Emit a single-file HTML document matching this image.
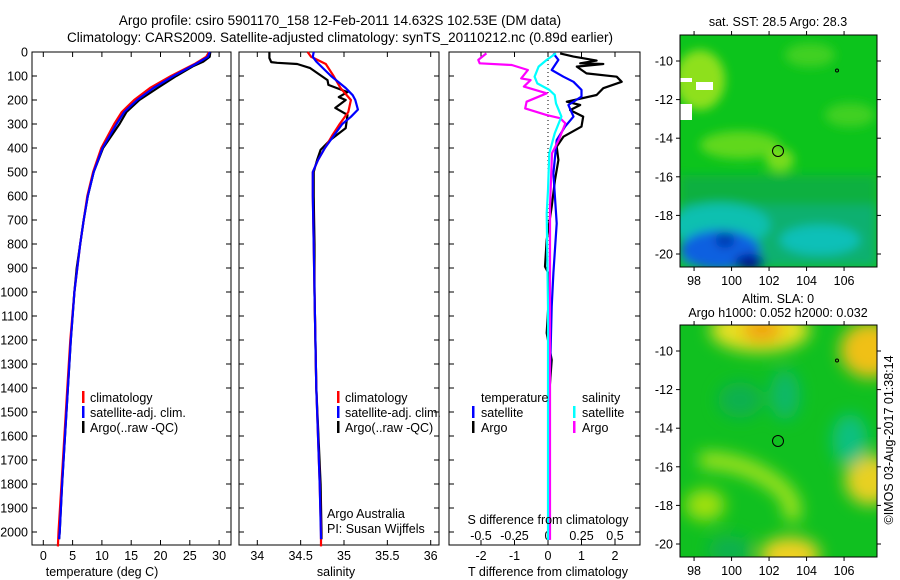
<!DOCTYPE html>
<html><head><meta charset="utf-8">
<style>
html,body{margin:0;padding:0;background:#fff;}
svg{display:block;font-family:"Liberation Sans",sans-serif;}
text{font-size:12.5px;fill:#000;}
</style></head>
<body>
<svg id="fig" width="900" height="580" viewBox="0 0 900 580" xmlns="http://www.w3.org/2000/svg">
<defs>
  <filter id="blur1" x="-20%" y="-20%" width="140%" height="140%"><feGaussianBlur stdDeviation="5"/></filter>
  <filter id="blur2" x="-20%" y="-20%" width="140%" height="140%"><feGaussianBlur stdDeviation="8"/></filter>
  <clipPath id="clipM1"><rect x="680" y="35" width="197" height="232"/></clipPath>
  <clipPath id="clipM2"><rect x="680" y="325" width="197" height="232"/></clipPath>
</defs>
<text x="340" y="25" text-anchor="middle" style="font-size:13.5px">Argo profile: csiro 5901170_158 12-Feb-2011 14.632S 102.53E (DM data)</text>
<text x="340" y="42" text-anchor="middle" style="font-size:13.5px">Climatology: CARS2009. Satellite-adjusted climatology: synTS_20110212.nc (0.89d earlier)</text>

<!-- map 1 -->
<g clip-path="url(#clipM1)">
  <rect x="680" y="35" width="197" height="232" fill="#0cc41c"/>
  <g filter="url(#blur1)">
    <rect x="680" y="175" width="197" height="40" fill="#10b040"/>
    <ellipse cx="700" cy="80" rx="25" ry="30" fill="#8ee01a"/>
    <ellipse cx="740" cy="145" rx="40" ry="14" fill="#60d81c"/>
    <ellipse cx="780" cy="160" rx="14" ry="12" fill="#78dc1a"/>
    <ellipse cx="810" cy="55" rx="25" ry="12" fill="#40d020"/>
    <ellipse cx="850" cy="115" rx="25" ry="12" fill="#40d020"/>
    <rect x="680" y="205" width="197" height="62" fill="#10b070"/>
    <ellipse cx="720" cy="225" rx="50" ry="22" fill="#10c0b0"/>
    <ellipse cx="820" cy="240" rx="40" ry="15" fill="#10c0b8"/>
    <ellipse cx="720" cy="250" rx="40" ry="20" fill="#1060e0"/>
    <ellipse cx="750" cy="262" rx="15" ry="8" fill="#001890"/>
    <ellipse cx="725" cy="240" rx="10" ry="8" fill="#0038b0"/>
  </g>
  <rect x="680" y="78" width="12" height="4" fill="#fff"/>
  <rect x="696" y="82" width="17" height="8" fill="#fff"/>
  <rect x="680" y="104" width="12" height="16" fill="#fff"/>
</g>
<rect x="680" y="35" width="197" height="232" fill="none" stroke="#000"/>
<circle cx="778" cy="151" r="5.5" fill="none" stroke="#000"/>
<circle cx="837" cy="70.5" r="1.5" fill="none" stroke="#000"/>
<text x="778" y="26" text-anchor="middle">sat. SST: 28.5 Argo: 28.3</text>

<!-- map 2 -->
<g clip-path="url(#clipM2)">
  <rect x="680" y="325" width="197" height="232" fill="#10c020"/>
  <g filter="url(#blur2)">
    <ellipse cx="760" cy="330" rx="50" ry="22" fill="#e8e020"/>
    <ellipse cx="762" cy="330" rx="20" ry="12" fill="#f0a010"/>
    <ellipse cx="870" cy="350" rx="30" ry="28" fill="#f0c018"/>
    <ellipse cx="870" cy="480" rx="25" ry="25" fill="#e8d020"/>
    <ellipse cx="790" cy="555" rx="30" ry="18" fill="#f0d020"/>
    <ellipse cx="705" cy="505" rx="20" ry="16" fill="#a0e010"/>
    <path d="M700 460 Q 740 460 770 480 T 790 520" stroke="#a8e41a" stroke-width="16" fill="none"/>
    <ellipse cx="740" cy="400" rx="22" ry="18" fill="#10b050"/>
    <ellipse cx="785" cy="395" rx="15" ry="25" fill="#10b868"/>
    <ellipse cx="850" cy="440" rx="18" ry="26" fill="#10c080"/>
    <ellipse cx="730" cy="550" rx="22" ry="14" fill="#10b050"/>
  </g>
</g>
<rect x="680" y="325" width="197" height="232" fill="none" stroke="#000"/>
<circle cx="778" cy="441" r="5.5" fill="none" stroke="#000"/>
<circle cx="837" cy="360.5" r="1.5" fill="none" stroke="#000"/>
<text x="778" y="303" text-anchor="middle">Altim. SLA: 0</text>
<text x="778" y="317" text-anchor="middle">Argo h1000: 0.052 h2000: 0.032</text>
<text transform="translate(893,440) rotate(-90)" text-anchor="middle">©IMOS 03-Aug-2017 01:38:14</text>

<g id="axes"></g>
<g id="marks"></g>

<!-- legends -->
<g>
  <rect x="82" y="391" width="2.5" height="12" fill="#f00"/><text x="90" y="402">climatology</text>
  <rect x="82" y="406" width="2.5" height="12" fill="#00f"/><text x="90" y="417">satellite-adj. clim.</text>
  <rect x="82" y="421" width="2.5" height="12" fill="#000"/><text x="90" y="432">Argo(..raw -QC)</text>
</g>
<g>
  <rect x="337" y="391" width="2.5" height="12" fill="#f00"/><text x="345" y="402">climatology</text>
  <rect x="337" y="406" width="2.5" height="12" fill="#00f"/><text x="345" y="417">satellite-adj. clim.</text>
  <rect x="337" y="421" width="2.5" height="12" fill="#000"/><text x="345" y="432">Argo(..raw -QC)</text>
</g>
<g>
  <text x="481" y="402">temperature</text>
  <rect x="472" y="406" width="2.5" height="12" fill="#00f"/><text x="481" y="417">satellite</text>
  <rect x="472" y="421" width="2.5" height="12" fill="#000"/><text x="481" y="432">Argo</text>
  <text x="582" y="402">salinity</text>
  <rect x="573" y="406" width="2.5" height="12" fill="#0ff"/><text x="582" y="417">satellite</text>
  <rect x="573" y="421" width="2.5" height="12" fill="#f0f"/><text x="582" y="432">Argo</text>
</g>
<text x="327" y="518">Argo Australia</text>
<text x="327" y="533">PI: Susan Wijffels</text>
<text x="548" y="524" text-anchor="middle">S difference from climatology</text>
<text x="102" y="576" text-anchor="middle">temperature (deg C)</text>
<text x="336" y="576" text-anchor="middle">salinity</text>
<text x="548" y="576" text-anchor="middle">T difference from climatology</text>
</svg>

<script>
// ---- data ----
const depthTicks = [0,100,200,300,400,500,600,700,800,900,1000,1100,1200,1300,1400,1500,1600,1700,1800,1900,2000];
const tempTicks = [0,5,10,15,20,25,30];
const salTicks = [34,34.5,35,35.5,36];
const tdiffTicks = [-2,-1,0,1,2];
const sdiffTicks = [-0.5,-0.25,0,0.25,0.5];
const sdiffTickLabels = ["-0.5","-0.25","0","0.25","0.5"];
const lonTicks = [98,100,102,104,106];
const latTicks = [-10,-12,-14,-16,-18,-20];

const tClimDepth = [0,20,50,100,150,200,250,300,400,500,600,700,800,900,1000,1200,1400,1600,1800,2000,2060];
const tClimVal   = [28.3,27.8,25.8,21.8,18.2,15.5,13.4,12.1,9.9,8.5,7.5,6.9,6.3,5.8,5.3,4.6,4.1,3.6,3.1,2.6,2.5];
const tSatDepth  = [0,20,50,100,150,200,250,300,400,500,600,700,800,900,1000,1200,1400,1600,1800,2000,2030];
const tSatVal    = [28.4,28.1,26.0,22.2,18.8,16.0,13.8,12.5,10.1,8.6,7.6,6.9,6.3,5.8,5.3,4.7,4.2,3.7,3.2,2.8,2.7];
const tArgoDepth = [0,20,40,60,100,150,200,250,300,400,500,600,700,800,900,1000,1200,1400,1600,1800,2000,2030];
const tArgoVal   = [28.5,28.4,27.3,25.5,22.7,19.5,16.4,14.2,13.0,10.2,8.6,7.6,6.9,6.3,5.7,5.3,4.7,4.2,3.7,3.2,2.8,2.7];

const sClimDepth = [0,20,50,100,150,200,250,300,350,400,450,500,600,800,1000,1200,1400,1600,1800,2000,2060];
const sClimVal   = [34.58,34.62,34.79,34.88,34.96,35.08,35.05,34.95,34.86,34.78,34.70,34.64,34.64,34.65,34.66,34.67,34.68,34.70,34.72,34.735,34.735];
const sSatDepth  = [0,20,40,100,150,180,200,240,270,300,350,400,450,500,600,800,1000,1400,1800,2030];
const sSatVal    = [34.65,34.64,34.68,34.85,35.02,35.10,35.13,35.16,35.08,34.98,34.88,34.78,34.70,34.64,34.64,34.65,34.66,34.68,34.72,34.735];
const sArgoDepth = [0,25,42,45,50,67,117,137,167,188,200,233,262,317,367,408,450,500,600,800,1000,1400,1800,2000,2030];
const sArgoVal   = [34.14,34.14,34.16,34.23,34.46,34.61,34.81,34.82,35.04,34.94,35.02,34.90,35.04,35.02,34.84,34.73,34.69,34.65,34.65,34.66,34.66,34.68,34.73,34.74,34.74];

const dTSatDepth  = [6,33,75,103,124,158,186,221,269,311,367,506,714,921,1061,1339,2033];
const dTSatVal    = [0.16,0.31,0.11,0.46,0.76,1.0,1.0,0.61,0.76,0.51,0.26,0.16,0.26,0.16,0.11,0.06,0.01];
const dTArgoDepth = [6,19,36,47,50,61,89,103,124,151,179,207,221,242,269,311,353,394,450,533,644,783,894,921,1061,1171,1283,1478,2033];
const dTArgoVal   = [0.36,0.76,1.45,0.96,1.65,0.86,1.15,2.05,2.2,1.65,1.45,0.56,0.96,0.66,1.05,1.0,0.46,0.26,0.31,0.21,0.11,-0.04,-0.09,0.01,0.01,-0.04,0.11,0.01,0.01];
const dSSatDepth  = [6,33,61,103,131,158,179,214,269,339,422,575,672,1061,2033];
const dSSatVal    = [0.06,-0.01,-0.07,-0.10,-0.08,0.01,0.05,0.06,0.10,0.05,0.01,0.0,-0.01,0.0,0.0];
const dSArgoDepth = [6,33,47,54,75,110,117,144,172,207,235,263,276,297,367,422,644,2033];
const dSArgoVal   = [-0.46,-0.52,-0.51,-0.27,-0.15,-0.20,-0.13,-0.18,-0.01,-0.16,-0.17,-0.01,0.09,0.13,0.08,0.03,0.015,0.015];

// ---- scales ----
const yTop = 52, yBot = 545;
const yD = d => yTop + d * 0.24;
const xT = t => 43.3 + t * 5.86;
const xS = s => 257.3 + (s - 34) * 86.7;
const xTd = t => 548 + t * 33.5;
const xSd = s => 548 + s * 134;
const panels = [{l:32,r:231},{l:239,r:439},{l:449,r:640}];
const NS = "http://www.w3.org/2000/svg";
const axesG = document.getElementById('axes');
const marksG = document.getElementById('marks');
function mk(tag, attrs, parent){ const e=document.createElementNS(NS,tag); for(const k in attrs) e.setAttribute(k,attrs[k]); parent.appendChild(e); return e; }

panels.forEach((p,i)=>{
  const f = mk('rect',{x:p.l,y:yTop,width:p.r-p.l,height:yBot-yTop,fill:'none',stroke:'#000','stroke-width':1},axesG);
  
  
  depthTicks.forEach(d=>{
    mk('line',{x1:p.l,x2:p.l+5,y1:yD(d),y2:yD(d),stroke:'#000'},axesG);
    mk('line',{x1:p.r-5,x2:p.r,y1:yD(d),y2:yD(d),stroke:'#000'},axesG);
  });
});
depthTicks.forEach(d=>{
  const t = mk('text',{x:28,y:yD(d)+4.5,'text-anchor':'end'},axesG);
  t.textContent = d;
  
  
});
function xticks(ticks, sc, ly){
  ticks.forEach((v)=>{
    const x = sc(v);
    mk('line',{x1:x,x2:x,y1:yTop,y2:yTop+5,stroke:'#000'},axesG);
    mk('line',{x1:x,x2:x,y1:yBot-5,y2:yBot,stroke:'#000'},axesG);
    const t = mk('text',{x:x,y:ly,'text-anchor':'middle'},axesG);
    t.textContent = v;
    
    
  });
}
xticks(tempTicks,xT,560);
xticks(salTicks,xS,560);
xticks(tdiffTicks,xTd,560);
sdiffTicks.forEach((v,i)=>{
  const t = mk('text',{x:xSd(v),y:540,'text-anchor':'middle'},axesG);
  t.textContent = sdiffTickLabels[i];
  
  
});
const z = mk('line',{x1:xTd(0),x2:xTd(0),y1:yTop,y2:yBot,stroke:'#000','stroke-dasharray':'1,3'},axesG);



function linePath(depths, vals, sc){
  let d = '';
  for(let i=0;i<depths.length;i++){ d += (i?'L':'M') + sc(vals[i]).toFixed(1) + ' ' + yD(depths[i]).toFixed(1) + ' '; }
  return d;
}
function series(depths, vals, sc, color, name){
  const p = mk('path',{d:linePath(depths,vals,sc),fill:'none',stroke:color,'stroke-width':2.2,'stroke-linejoin':'round'},marksG);
  
  
}
series(tArgoDepth,tArgoVal,xT,'#000','temp-argo-line');
series(tClimDepth,tClimVal,xT,'#f00','temp-climatology-line');
series(tSatDepth,tSatVal,xT,'#00f','temp-satellite-line');
series(sArgoDepth,sArgoVal,xS,'#000','sal-argo-line');
series(sClimDepth,sClimVal,xS,'#f00','sal-climatology-line');
series(sSatDepth,sSatVal,xS,'#00f','sal-satellite-line');
series(dTArgoDepth,dTArgoVal,xTd,'#000','tdiff-argo-line');
series(dTSatDepth,dTSatVal,xTd,'#00f','tdiff-satellite-line');
series(dSArgoDepth,dSArgoVal,xSd,'#f0f','sdiff-argo-line');
series(dSSatDepth,dSSatVal,xSd,'#0ff','sdiff-satellite-line');

// map axes
const lonX = lon => 680 + (lon - 97.25) * 18.75;
const latY1 = lat => 61 + (-10 - lat) * 19.3;
const latY2 = lat => 351 + (-10 - lat) * 19.3;
[[latY1,35,267],[latY2,325,557]].forEach(([ly,t0,b0])=>{
  lonTicks.forEach(lon=>{
    const x = lonX(lon);
    mk('line',{x1:x,x2:x,y1:t0-4,y2:t0,stroke:'#000'},axesG);
    mk('line',{x1:x,x2:x,y1:b0,y2:b0+4,stroke:'#000'},axesG);
    const t = mk('text',{x:x,y:b0+18,'text-anchor':'middle'},axesG);
    t.textContent = lon;
    
    
  });
  latTicks.forEach(lat=>{
    const y = ly(lat);
    mk('line',{x1:676,x2:680,y1:y,y2:y,stroke:'#000'},axesG);
    mk('line',{x1:877,x2:881,y1:y,y2:y,stroke:'#000'},axesG);
    const t = mk('text',{x:673,y:y+4.5,'text-anchor':'end'},axesG);
    t.textContent = lat;
    
    
  });
});
</script>
</body></html>
